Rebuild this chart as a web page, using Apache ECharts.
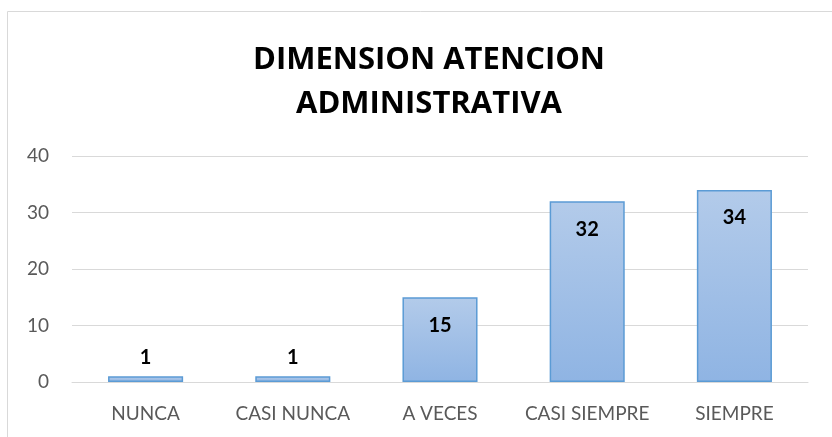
<!DOCTYPE html>
<html>
<head>
<meta charset="utf-8">
<script src="https://cdn.jsdelivr.net/npm/echarts@6/dist/echarts.min.js"></script>
<style>
  html, body { margin: 0; padding: 0; background: #fff; }
  #chart { width: 832px; height: 437px; }
</style>
</head>
<body>
<div id="chart"></div>
<script>
// datos del grafico
var categorias = ['NUNCA', 'CASI NUNCA', 'A VECES', 'CASI SIEMPRE', 'SIEMPRE'];
var valores = [1, 1, 15, 32, 34];
var titulo = 'DIMENSION ATENCION\nADMINISTRATIVA';

var chart = echarts.init(document.getElementById('chart'));

// barras pequeñas llevan la etiqueta encima, las grandes dentro
var barData = valores.map(function (v) {
    var small = v < 5;
    return {
        value: v,
        label: {
            position: small ? 'top' : 'insideTop',
            distance: small ? 9 : 18
        }
    };
});

var option = {
    animation: false,
    textStyle: { fontFamily: 'Lato' },
    title: {
        text: titulo,
        left: 424,
        top: 33,
        textAlign: 'center',
        textStyle: {
            fontFamily: 'Open Sans',
            fontWeight: 'bold',
            fontSize: 31,
            lineHeight: 44,
            color: '#000'
        }
    },
    graphic: [{
        type: 'rect',
        shape: { x: 7.5, y: 11.5, width: 840, height: 450 },
        style: { fill: null, stroke: '#d9d9d9', lineWidth: 1 },
        silent: true
    }],
    grid: { left: 72, right: 24, top: 156, bottom: 55 },
    xAxis: {
        type: 'category',
        data: categorias,
        axisLine: { lineStyle: { color: '#d9d9d9', width: 1 } },
        axisTick: { show: false },
        axisLabel: { color: '#595959', fontSize: 19, margin: 22, interval: 0, hideOverlap: false }
    },
    yAxis: {
        type: 'value',
        min: 0,
        max: 40,
        interval: 10,
        axisLine: { show: false },
        axisTick: { show: false },
        axisLabel: { color: '#595959', fontSize: 19, margin: 23 },
        splitLine: { lineStyle: { color: '#d9d9d9', width: 1 } }
    },
    series: [{
        type: 'bar',
        data: barData,
        barWidth: '51%',
        itemStyle: {
            color: new echarts.graphic.LinearGradient(0, 0, 0, 1, [
                { offset: 0, color: '#b3cbea' },
                { offset: 1, color: '#8fb4e3' }
            ]),
            borderColor: '#5b9bd5',
            borderWidth: 1.5
        },
        label: {
            show: true,
            color: '#000',
            fontWeight: 'bold',
            fontSize: 20
        }
    }]
};

chart.setOption(option);
</script>
</body>
</html>
